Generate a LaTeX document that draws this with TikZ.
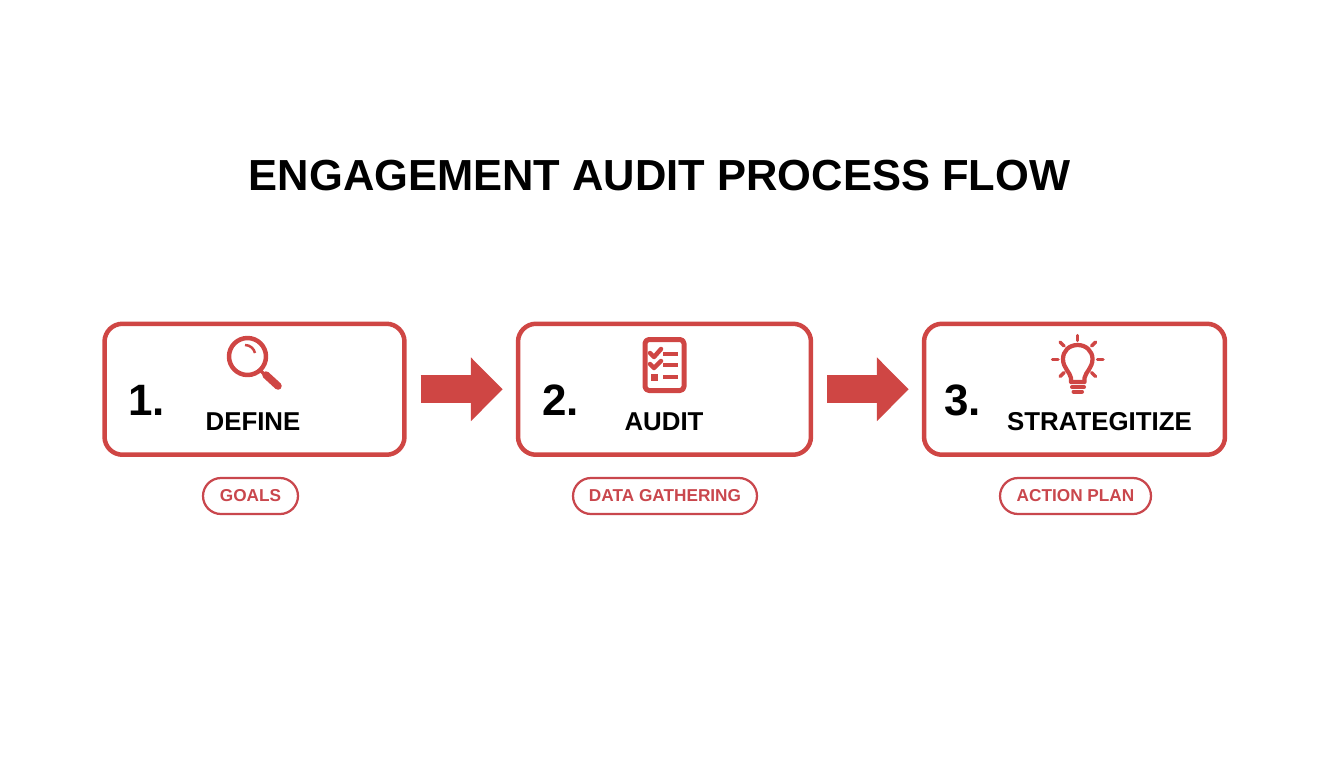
\documentclass[tikz,border=0pt]{standalone}
\usepackage{fontspec}
\usepackage{tikz}
\usepackage{xcolor}
\usetikzlibrary{arrows.meta}
\setmainfont{Liberation Sans}
\definecolor{auditred}{HTML}{CF4644}
\definecolor{pillred}{HTML}{C9474D}
\begin{document}
\begin{tikzpicture}[x=0.02cm,y=-0.02cm]%
  \tikzstyle{stepn}=[rectangle,draw=auditred,line width=0.09cm,rounded corners=0.36cm,minimum height=2.62cm,inner sep=0]
  \tikzstyle{pilln}=[rectangle,draw=pillred,line width=0.045cm,rounded corners=0.36cm,minimum height=0.72cm,inner sep=0,text=pillred,font=\fontsize{9.8pt}{12pt}\selectfont\bfseries]
  \tikzstyle{numn}=[anchor=base west,inner sep=0,font=\fontsize{25pt}{28pt}\selectfont\bfseries]
  \tikzstyle{namen}=[anchor=base,inner sep=0,font=\fontsize{14.7pt}{18pt}\selectfont\bfseries]
  \tikzstyle{flow}=[draw=auditred,line width=0.56cm,shorten <=14*0.02cm,shorten >=13*0.02cm,-{Triangle[length=0.64cm,width=1.24cm]}]
  \tikzstyle{icon}=[draw=auditred,line width=0.09cm,line cap=round,line join=round]
  \useasboundingbox (0,0) rectangle (1344,768);
  \node(title)[anchor=base,inner sep=0,font=\fontsize{24.75pt}{30pt}\selectfont\bfseries] at (659.5,190) {ENGAGEMENT AUDIT PROCESS FLOW};
  \node(box1)[stepn,minimum width=6cm] at (254.5,389.25) {};
  \node(box2)[stepn,minimum width=5.86cm] at (664.5,389.25) {};
  \node(box3)[stepn,minimum width=6.02cm] at (1074.5,389.25) {};
  \draw[flow] (box1) -- (box2);
  \draw[flow] (box2) -- (box3);
  \node(num1)[numn] at (128,415) {1.};
  \node(num2)[numn] at (542,415) {2.};
  \node(num3)[numn] at (944,415) {3.};
  \node(name1)[namen] at (253,430) {DEFINE};
  \node(name2)[namen] at (664,430) {AUDIT};
  \node(name3)[namen] at (1099.5,430) {STRATEGITIZE};
  \node(pill1)[pilln,minimum width=1.9cm] at (250.5,496) {GOALS};
  \node(pill2)[pilln,minimum width=3.68cm] at (665,496) {DATA GATHERING};
  \node(pill3)[pilln,minimum width=3.02cm] at (1075.5,496) {ACTION PLAN};
  \draw[icon] (247.5,356.5) circle [radius=18.5];
  \draw[icon,line width=0.05cm,line cap=butt] (245,345) .. controls (250,345) and (254,348.5) .. (255,353);
  \draw[icon,line width=0.07cm,line cap=butt] (260,370) -- (266,376);
  \draw[icon,line width=0.15cm] (266,375) -- (278,386);
  \draw[icon,rounded corners=0.08cm,line width=0.1cm] (645,339.5) rectangle (684,390.5);
  \draw[icon] (650,353) -- (654,357) -- (661,349);
  \draw[icon] (650,364) -- (654,368) -- (661,361);
  \fill[auditred] (651,374) rectangle (657.5,380.5);
  \foreach \y in {353.5,365,377} \draw[icon,line width=0.08cm,line cap=butt] (663,\y) -- (678,\y);
  \draw[icon,line width=0.085cm] (1071,382) -- (1071,378) .. controls (1070,372) and (1063,368) .. (1063,359)
    .. controls (1063,351) and (1069,345) .. (1077.7,345) .. controls (1086,345) and (1092.5,351) .. (1092.5,359)
    .. controls (1092.5,368) and (1085.5,372) .. (1084.5,378) -- (1084.5,382) -- cycle;
  \draw[icon,line width=0.08cm] (1072,387) -- (1084,387);
  \draw[icon,line width=0.08cm] (1073.5,391.5) -- (1082,391.5);
  \foreach \ax/\ay/\bx/\by in {1077.7/335.5/1077.7/340.5,1060/342/1064/346,1095.5/342/1091.5/346,1052.5/359.3/1058/359.3,1097.5/359.3/1103/359.3,1060/376.5/1064/372.5,1095.5/376.5/1091.5/372.5}
    \draw[icon,line width=0.07cm] (\ax,\ay) -- (\bx,\by);
\end{tikzpicture}
\end{document}
